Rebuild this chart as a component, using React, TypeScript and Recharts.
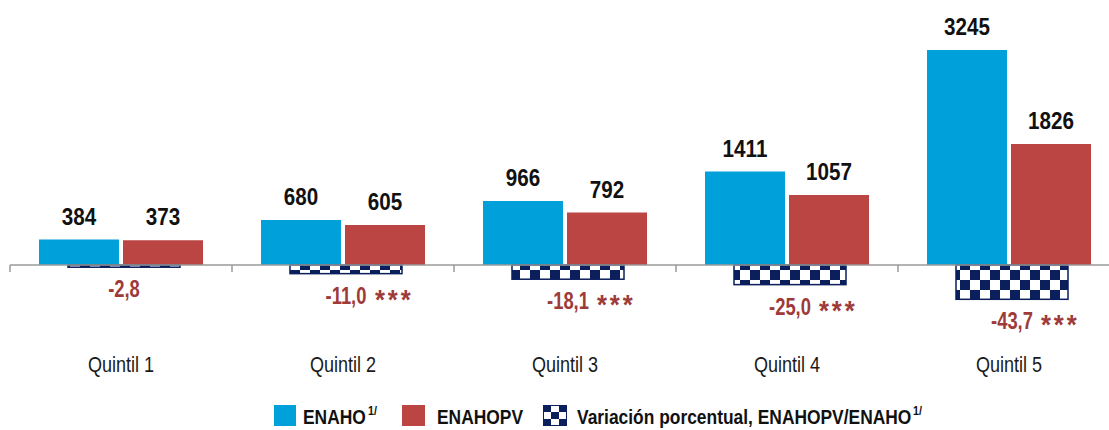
import { BarChart, Bar, XAxis, YAxis, LabelList, ReferenceLine, Legend } from 'recharts';

const quintiles = ['Quintil 1', 'Quintil 2', 'Quintil 3', 'Quintil 4', 'Quintil 5'];
const enaho = [384, 680, 966, 1411, 3245];
const enahopv = [373, 605, 792, 1057, 1826];
const variation = [-2.8, -11.0, -18.1, -25.0, -43.7];
const significance = ['', '***', '***', '***', '***'];

const data = quintiles.map((q, i) => ({
  name: q,
  enaho: enaho[i],
  enahopv: enahopv[i],
  variation: variation[i],
  stars: significance[i],
}));

const FONT = "'Liberation Sans', Arial, sans-serif";
const BLUE = '#00A0DA';
const RED = '#BB4542';
const NAVY = '#0A1F5C';
const LABEL_RED = '#9E3B39';

const fmt = (v: number) => v.toFixed(1).replace('.', ',');

// Arial Narrow look-alike: squeeze regular glyphs horizontally
const NarrowText = ({ x, y, sx = 0.84, anchor = 'middle', children, ...rest }: any) => (
  <text transform={`translate(${x},${y}) scale(${sx},1)`} x={0} y={0} textAnchor={anchor} fontFamily={FONT} {...rest}>
    {children}
  </text>
);

const AxisWithTicks = (props: any) => {
  const { x1, x2, y1 } = props;
  const step = (x2 - x1) / quintiles.length;
  return (
    <g>
      <line x1={x1} x2={x2} y1={y1} y2={y1} stroke="#9a9a9a" strokeWidth={1.5} />
      {quintiles.map((_, i) => (
        <line key={i} x1={x1 + step * i} x2={x1 + step * i} y1={y1} y2={y1 + 7} stroke="#9a9a9a" strokeWidth={1.5} />
      ))}
    </g>
  );
};

const CategoryTick = (props: any) => {
  const { x, y, payload } = props;
  return (
    <NarrowText x={x} y={y + 22} sx={0.82} fontSize={22} fill="#1a1a1a">
      {payload.value}
    </NarrowText>
  );
};

const ValueLabel = (props: any) => {
  const { x, y, width, value } = props;
  return (
    <NarrowText x={x + width / 2} y={y - 15} sx={0.86} fontSize={24} fontWeight="bold" fill="#111">
      {value}
    </NarrowText>
  );
};

const VARIATION_SHIFT = 3;

const VariationBar = (props: any) => {
  const { x, y, width, height } = props;
  const top = Math.min(y, y + height);
  const h = Math.abs(height);
  return (
    <rect x={x + VARIATION_SHIFT} y={top} width={width} height={h} fill="url(#checker)" stroke={NAVY} strokeWidth={1.5} />
  );
};

const VariationLabel = (props: any) => {
  const { x, y, width, height, value, index } = props;
  const cx = x + width / 2 + VARIATION_SHIFT;
  const bottom = Math.max(y, y + height);
  const stars = significance[index];
  const txt = fmt(value);
  const approxW = (txt.length - 1) * 12.8 * 0.8 + 6.4 * 0.8;
  return (
    <g>
      <NarrowText x={cx} y={bottom + 30} sx={0.8} fontSize={23} fontWeight="bold" fill={LABEL_RED}>
        {txt}
      </NarrowText>
      {stars && (
        <NarrowText x={cx + approxW / 2 + 6} y={bottom + 35} sx={0.95} anchor="start" fontSize={27} fontWeight="bold" letterSpacing={3} fill={LABEL_RED}>
          {stars}
        </NarrowText>
      )}
    </g>
  );
};

const LegendContent = () => {
  const oy = 5;
  const base = 24;
  const common = { fontSize: 20, fontWeight: 'bold', fill: '#111', sx: 0.87, anchor: 'start' };
  const sup = { fontSize: 12, fontWeight: 'bold', fill: '#111', sx: 0.9, anchor: 'start' };
  const cells = [0, 1, 2].flatMap((r) => [0, 1, 2].map((c) => ({ r, c })));
  return (
    <svg width={1110} height={30} style={{ display: 'block' }}>
      <rect x={264} y={oy} width={22} height={21} fill={BLUE} />
      <NarrowText x={293} y={base} {...common}>ENAHO</NarrowText>
      <NarrowText x={358} y={base - 9} {...sup}>1/</NarrowText>
      <rect x={392} y={oy} width={23} height={21} fill={RED} />
      <NarrowText x={427} y={base} {...common}>ENAHOPV</NarrowText>
      <rect x={533} y={oy} width={24} height={21} fill="#fff" />
      {cells.map(({ r, c }) =>
        (r + c) % 2 === 0 ? <rect key={`${r}${c}`} x={533 + c * 8} y={oy + r * 7} width={8} height={7} fill={NAVY} /> : null
      )}
      <rect x={533.5} y={oy + 0.5} width={23} height={20} fill="none" stroke={NAVY} />
      <NarrowText x={567} y={base} {...common}>Variación porcentual, ENAHOPV/ENAHO</NarrowText>
      <NarrowText x={903} y={base - 9} {...sup}>1/</NarrowText>
    </svg>
  );
};

export default function App() {
  return (
    <div style={{ position: 'absolute', left: 0, top: 0, width: 1109, height: 430, overflow: 'hidden', background: '#fff' }}>
      <BarChart
        width={1120}
        height={430}
        data={data}
        margin={{ top: 20, right: 0, left: 10, bottom: 0 }}
        barGap={4}
      >
        <defs>
          <pattern id="checker" width={20} height={20} patternUnits="userSpaceOnUse">
            <rect x={0} y={0} width={20} height={20} fill="#fff" />
            <rect x={0} y={0} width={10} height={10} fill={NAVY} />
            <rect x={10} y={10} width={10} height={10} fill={NAVY} />
          </pattern>
        </defs>
        <XAxis
          xAxisId="main"
          dataKey="name"
          height={50}
          axisLine={false}
          tickLine={false}
          tickSize={0}
          tickMargin={0}
          interval={0}
          tick={<CategoryTick />}
        />
        <XAxis xAxisId="var" dataKey="name" hide />
        <YAxis yAxisId="main" hide domain={[-1283, 3698]} allowDataOverflow />
        <YAxis yAxisId="var" hide domain={[-108.3, 312.2]} allowDataOverflow />
        <ReferenceLine xAxisId="main" yAxisId="main" y={0} shape={<AxisWithTicks />} />
        <Bar xAxisId="main" yAxisId="main" dataKey="enaho" fill={BLUE} barSize={80} isAnimationActive={false}>
          <LabelList dataKey="enaho" content={<ValueLabel />} />
        </Bar>
        <Bar xAxisId="main" yAxisId="main" dataKey="enahopv" fill={RED} barSize={80} isAnimationActive={false}>
          <LabelList dataKey="enahopv" content={<ValueLabel />} />
        </Bar>
        <Bar
          xAxisId="var"
          yAxisId="var"
          dataKey="variation"
          barSize={112}
          shape={<VariationBar />}
          isAnimationActive={false}
        >
          <LabelList dataKey="variation" content={<VariationLabel />} />
        </Bar>
        <Legend verticalAlign="bottom" content={<LegendContent />} wrapperStyle={{ height: 30 }} />
      </BarChart>
    </div>
  );
}
